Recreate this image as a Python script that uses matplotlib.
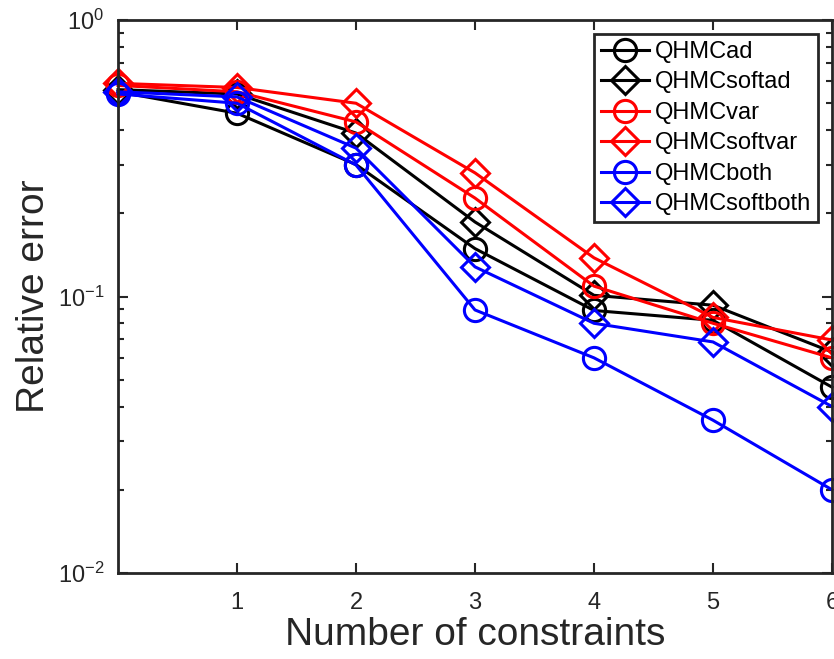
import matplotlib
matplotlib.use('Agg')
import matplotlib.pyplot as plt
import numpy as np

plt.rcParams['font.family'] = ['Liberation Sans', 'DejaVu Sans']
plt.rcParams['mathtext.fontset'] = 'custom'
plt.rcParams['mathtext.rm'] = 'Liberation Sans'

# data
n_constraints = [0, 1, 2, 3, 4, 5, 6]
qhmc_ad = [0.55, 0.46, 0.30, 0.149, 0.089, 0.082, 0.047]
qhmc_softad = [0.56, 0.54, 0.39, 0.186, 0.101, 0.093, 0.063]
qhmc_var = [0.58, 0.55, 0.428, 0.227, 0.109, 0.080, 0.060]
qhmc_softvar = [0.59, 0.57, 0.50, 0.28, 0.138, 0.084, 0.0696]
qhmc_both = [0.54, 0.50, 0.299, 0.0894, 0.060, 0.0357, 0.020]
qhmc_softboth = [0.55, 0.527, 0.344, 0.128, 0.080, 0.0685, 0.040]

series = [
    ('QHMCad', qhmc_ad, 'k', 'o'),
    ('QHMCsoftad', qhmc_softad, 'k', 'D'),
    ('QHMCvar', qhmc_var, 'r', 'o'),
    ('QHMCsoftvar', qhmc_softvar, 'r', 'D'),
    ('QHMCboth', qhmc_both, 'b', 'o'),
    ('QHMCsoftboth', qhmc_softboth, 'b', 'D'),
]

fig = plt.figure(figsize=(8.34, 6.59), dpi=100)
ax = fig.add_axes([118/834, 86/659, 714/834, 553/659])

for name, vals, c, m in series:
    ms = 16 if m == 'o' else 14
    ax.plot(n_constraints, vals, color=c, marker=m, markersize=ms, lw=2.2,
            markerfacecolor='none', markeredgewidth=2.2, label=name, clip_on=False)

ax.set_yscale('log')
ax.set_ylim(1e-2, 1)
ax.set_xlim(0, 6)
ax.set_xticks([1, 2, 3, 4, 5, 6])
ax.tick_params(which='both', direction='in', top=True, right=True,
               colors='#262626', labelsize=17, width=1.5)
ax.tick_params(which='major', length=7)
ax.tick_params(which='minor', length=4)
ax.tick_params(axis='x', pad=14)
ax.tick_params(axis='y', pad=10)
for s in ax.spines.values():
    s.set_linewidth(2)
    s.set_color('#262626')

ax.set_xlabel('Number of constraints', fontsize=28, color='#262626', labelpad=2)
ax.set_ylabel('Relative error', fontsize=28, color='#262626', labelpad=4)

leg = ax.legend(loc='upper right', bbox_to_anchor=(0.99, 0.988), fontsize=17,
                handlelength=2.0, fancybox=False, framealpha=1,
                edgecolor='#262626', borderpad=0.3, labelspacing=0.36,
                handletextpad=0.25, borderaxespad=0.3)
leg.get_frame().set_linewidth(2)

fig.savefig('out.png', dpi=100)
